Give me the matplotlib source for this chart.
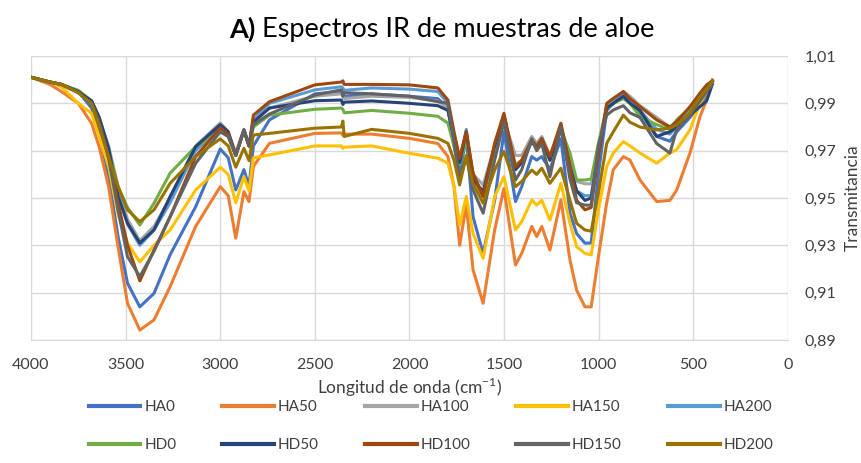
import matplotlib
matplotlib.use('Agg')
import matplotlib.pyplot as plt
from matplotlib.ticker import FixedLocator, FuncFormatter

plt.rcParams['font.family'] = ['Lato', 'DejaVu Sans']
plt.rcParams['mathtext.fontset'] = 'custom'
plt.rcParams['mathtext.rm'] = 'Lato'

# wavenumber grid (cm-1), shared by all spectra
wn = [4000, 3900, 3840, 3750, 3680, 3640, 3590, 3540, 3490, 3425,
      3350, 3265, 3130, 3000, 2958, 2918, 2875, 2848, 2825, 2740,
      2500, 2360, 2352, 2345, 2200, 2000, 1850, 1797, 1765, 1735,
      1700, 1664, 1611, 1550, 1501, 1440, 1407, 1354, 1328, 1301,
      1258, 1200, 1152, 1117, 1073, 1040, 1002, 958, 923, 870,
      835, 782, 694, 624, 588, 518, 465, 430, 400]

ha0 = [1.001, 0.999, 0.998, 0.995, 0.988, 0.978, 0.959, 0.9337, 0.914, 0.904,
       0.9097, 0.926, 0.9463, 0.9707, 0.967, 0.9534, 0.962, 0.955, 0.972, 0.983,
       0.994, 0.995, 0.994, 0.993, 0.994, 0.993, 0.992, 0.988, 0.972, 0.960,
       0.976, 0.942, 0.9266, 0.949, 0.978, 0.9485, 0.9548, 0.9675, 0.966, 0.9675,
       0.962, 0.975, 0.9437, 0.935, 0.9309, 0.931, 0.960, 0.987, 0.990, 0.994,
       0.990, 0.986, 0.976, 0.974, 0.978, 0.984, 0.990, 0.993, 0.999]
ha50 = [1.001, 0.998, 0.995, 0.990, 0.9816, 0.9717, 0.9548, 0.9294, 0.9055, 0.8942,
        0.8985, 0.9125, 0.938, 0.9548, 0.951, 0.933, 0.9527, 0.9485, 0.9633, 0.9731,
        0.9773, 0.9775, 0.9765, 0.977, 0.977, 0.9752, 0.973, 0.9675, 0.955, 0.930,
        0.9471, 0.9196, 0.9055, 0.9365, 0.954, 0.9217, 0.9266, 0.938, 0.9337, 0.938,
        0.928, 0.9492, 0.9238, 0.9111, 0.904, 0.904, 0.925, 0.948, 0.962, 0.9675,
        0.966, 0.9576, 0.9485, 0.949, 0.9534, 0.969, 0.9844, 0.9914, 0.9999]
ha100 = [1.001, 0.999, 0.998, 0.995, 0.991, 0.984, 0.972, 0.955, 0.941, 0.932,
         0.938, 0.950, 0.972, 0.9817, 0.978, 0.969, 0.979, 0.972, 0.983, 0.988,
         0.993, 0.994, 0.993, 0.992, 0.993, 0.9925, 0.991, 0.988, 0.976, 0.966,
         0.977, 0.960, 0.9555, 0.972, 0.983, 0.968, 0.968, 0.976, 0.973, 0.976,
         0.968, 0.980, 0.966, 0.957, 0.956, 0.956, 0.972, 0.988, 0.990, 0.995,
         0.993, 0.989, 0.984, 0.980, 0.982, 0.988, 0.993, 0.997, 0.9995]
ha150 = [1.001, 0.999, 0.997, 0.990, 0.9858, 0.976, 0.9633, 0.943, 0.9309, 0.923,
         0.930, 0.9365, 0.9534, 0.963, 0.960, 0.948, 0.959, 0.953, 0.967, 0.9682,
         0.972, 0.972, 0.971, 0.9715, 0.972, 0.9689, 0.9668, 0.9647, 0.955, 0.9386,
         0.9506, 0.935, 0.9245, 0.9506, 0.959, 0.9365, 0.940, 0.9492, 0.947, 0.949,
         0.9407, 0.9562, 0.9393, 0.9294, 0.9266, 0.926, 0.945, 0.9633, 0.969, 0.9738,
         0.972, 0.969, 0.9647, 0.969, 0.9705, 0.9788, 0.990, 0.995, 0.999]
ha200 = [1.001, 0.999, 0.998, 0.995, 0.991, 0.984, 0.971, 0.953, 0.939, 0.930,
         0.9365, 0.948, 0.970, 0.980, 0.977, 0.968, 0.9787, 0.972, 0.983, 0.990,
         0.9957, 0.997, 0.9965, 0.9955, 0.9965, 0.996, 0.995, 0.990, 0.977, 0.966,
         0.979, 0.958, 0.951, 0.972, 0.985, 0.962, 0.965, 0.974, 0.971, 0.974,
         0.966, 0.981, 0.963, 0.953, 0.951, 0.951, 0.970, 0.989, 0.991, 0.994,
         0.991, 0.987, 0.979, 0.977, 0.980, 0.987, 0.992, 0.996, 0.999]
hd0 = [1.001, 0.999, 0.998, 0.9955, 0.991, 0.984, 0.970, 0.9548, 0.946, 0.9386,
       0.9478, 0.9605, 0.9717, 0.978, 0.976, 0.968, 0.9787, 0.972, 0.980, 0.985,
       0.9875, 0.988, 0.9875, 0.986, 0.987, 0.9858, 0.9845, 0.9816, 0.972, 0.964,
       0.975, 0.958, 0.9506, 0.970, 0.982, 0.964, 0.966, 0.974, 0.971, 0.975,
       0.966, 0.979, 0.969, 0.9576, 0.9576, 0.958, 0.973, 0.988, 0.990, 0.992,
       0.990, 0.9844, 0.981, 0.979, 0.983, 0.988, 0.993, 0.997, 0.9995]
hd50 = [1.001, 0.999, 0.998, 0.995, 0.991, 0.984, 0.971, 0.9506, 0.9393, 0.931,
        0.9365, 0.9506, 0.9717, 0.981, 0.978, 0.968, 0.9787, 0.972, 0.982, 0.988,
        0.9911, 0.9914, 0.9895, 0.9905, 0.991, 0.990, 0.989, 0.987, 0.975, 0.965,
        0.978, 0.958, 0.9527, 0.972, 0.985, 0.962, 0.965, 0.974, 0.971, 0.975,
        0.966, 0.980, 0.9633, 0.953, 0.949, 0.950, 0.969, 0.988, 0.990, 0.993,
        0.990, 0.987, 0.976, 0.978, 0.980, 0.985, 0.9886, 0.991, 0.998]
hd100 = [1.001, 0.999, 0.998, 0.9945, 0.990, 0.982, 0.967, 0.948, 0.930, 0.915,
         0.928, 0.942, 0.9675, 0.9796, 0.977, 0.968, 0.9787, 0.972, 0.985, 0.9907,
         0.9978, 0.999, 0.9995, 0.998, 0.998, 0.9978, 0.9965, 0.9914, 0.978, 0.9668,
         0.978, 0.9605, 0.9506, 0.9732, 0.9858, 0.963, 0.966, 0.9745, 0.972, 0.975,
         0.9675, 0.9816, 0.9633, 0.949, 0.945, 0.946, 0.968, 0.990, 0.9921, 0.995,
         0.992, 0.9886, 0.983, 0.980, 0.9823, 0.9886, 0.9943, 0.9978, 0.9995]
hd150 = [1.001, 0.999, 0.998, 0.9945, 0.990, 0.982, 0.967, 0.945, 0.9252, 0.9168,
         0.9275, 0.9421, 0.9647, 0.978, 0.976, 0.968, 0.9787, 0.972, 0.981, 0.9855,
         0.9935, 0.9957, 0.993, 0.9945, 0.994, 0.993, 0.9907, 0.990, 0.974, 0.9576,
         0.9675, 0.9534, 0.9436, 0.966, 0.9823, 0.9576, 0.962, 0.975, 0.970, 0.973,
         0.959, 0.980, 0.958, 0.948, 0.947, 0.947, 0.972, 0.985, 0.9872, 0.989,
         0.986, 0.984, 0.973, 0.969, 0.979, 0.985, 0.991, 0.995, 0.998]
hd200 = [1.001, 0.999, 0.998, 0.9945, 0.990, 0.9802, 0.9675, 0.9548, 0.945, 0.940,
         0.945, 0.9562, 0.9675, 0.975, 0.972, 0.963, 0.971, 0.9658, 0.9766, 0.9773,
         0.9795, 0.980, 0.9825, 0.976, 0.979, 0.9773, 0.9752, 0.9731, 0.966, 0.9555,
         0.968, 0.956, 0.9478, 0.9618, 0.9697, 0.9548, 0.957, 0.9618, 0.960, 0.9626,
         0.9562, 0.9626, 0.949, 0.9393, 0.9365, 0.936, 0.952, 0.9731, 0.978, 0.985,
         0.982, 0.980, 0.9788, 0.9795, 0.981, 0.9858, 0.9928, 0.996, 0.9992]

names = ['HA0', 'HA50', 'HA100', 'HA150', 'HA200',
         'HD0', 'HD50', 'HD100', 'HD150', 'HD200']
series = [ha0, ha50, ha100, ha150, ha200, hd0, hd50, hd100, hd150, hd200]
colors = ['#4472C4', '#ED7D31', '#A5A5A5', '#FFC000', '#5B9BD5',
          '#70AD47', '#264478', '#9E480E', '#636363', '#997300']

fig = plt.figure(figsize=(8.62, 4.63), dpi=100)
ax = fig.add_axes([31 / 862, 1 - 340 / 463, 757 / 862, 284 / 463])

lines = []
for name, vals, c in zip(names, series, colors):
    ln, = ax.plot(wn, vals, color=c, lw=2.2, label=name, solid_joinstyle='round')
    lines.append(ln)

ax.set_xlim(4000, 0)
ax.set_ylim(0.89, 1.01)
ax.xaxis.set_major_locator(FixedLocator(range(0, 4001, 500)))
ax.yaxis.set_major_locator(FixedLocator([0.89 + 0.02 * i for i in range(7)]))
ax.yaxis.set_major_formatter(FuncFormatter(lambda v, p: f'{v:.2f}'.replace('.', ',')))
ax.yaxis.tick_right()
ax.yaxis.set_label_position('right')
ax.tick_params(axis='both', length=0, labelsize=11.5, colors='#404040')
ax.tick_params(axis='x', pad=13)
ax.tick_params(axis='y', pad=12)
ax.grid(True, color='#D9D9D9', lw=1)
ax.set_axisbelow(True)
for s in ['top', 'left', 'right']:
    ax.spines[s].set_visible(False)
ax.spines['bottom'].set_color('#D9D9D9')

ax.set_xlabel('Longitud de onda (cm$^{-1}$)', fontsize=12.5, color='#404040', labelpad=3)
ax.set_ylabel('Transmitancia', fontsize=12.5, color='#404040', labelpad=6)

# legend filled row by row (5 per row)
order = [0, 5, 1, 6, 2, 7, 3, 8, 4, 9]
leg = fig.legend([lines[i] for i in order], [names[i] for i in order],
                 loc='upper center', bbox_to_anchor=(431 / 862, 1 - 400 / 463),
                 ncol=5, frameon=False, fontsize=11, handlelength=3.4,
                 handletextpad=0.25, columnspacing=3.0, labelspacing=1.6,
                 borderpad=0, borderaxespad=0)
for t in leg.get_texts():
    t.set_color('#404040')
for h in leg.get_lines():
    h.set_linewidth(3)

# title: bold panel letter followed by regular text
fig.canvas.draw()
r = fig.canvas.get_renderer()
t1 = fig.text(0, 1 - 29 / 463, 'A)', fontsize=19.5, fontweight='bold', va='center', color='#000000')
t2 = fig.text(0, 1 - 29 / 463, ' Espectros IR de muestras de aloe', fontsize=19.5, va='center', color='#000000')
w1 = t1.get_window_extent(r).width
w2 = t2.get_window_extent(r).width
x0 = 442 - (w1 + w2) / 2
t1.set_x(x0 / 862)
t2.set_x((x0 + w1) / 862)

fig.savefig('out.png', dpi=100)
